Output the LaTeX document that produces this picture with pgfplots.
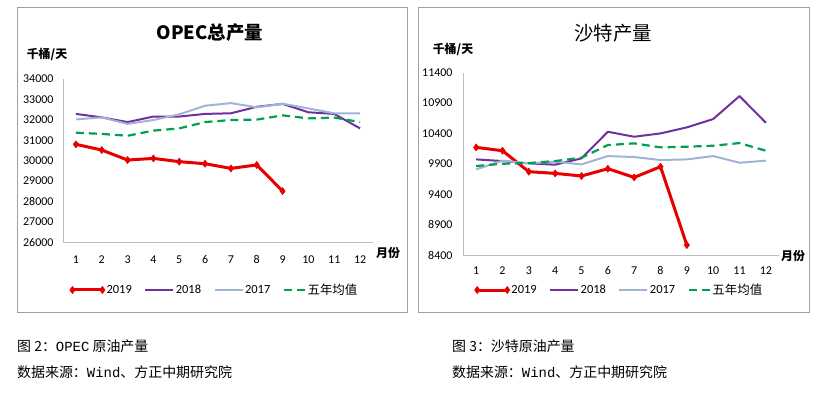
\documentclass[border=0pt]{standalone}
\usepackage{pgfplots}
\pgfplotsset{compat=1.18}
\usepackage{fontspec}
\setmainfont{Carlito}
\newfontfamily\cjk{Noto Sans CJK SC}
\newfontfamily\mono{Liberation Mono}
\definecolor{c19}{RGB}{232,0,0}
\definecolor{c18}{RGB}{112,48,160}
\definecolor{c17}{RGB}{160,180,215}
\definecolor{c5y}{RGB}{0,160,80}
\definecolor{framec}{RGB}{160,160,160}
\definecolor{axln}{RGB}{190,190,190}
\pgfplotsset{
  base/.style={scale only axis, xmin=0.5, xmax=12.5, xtick={1,...,12},
    axis x line*=bottom, axis y line*=left,
    axis line style={draw=axln, line width=0.8bp},
    major tick length=0pt,
    scaled y ticks=false,
    tick label style={font=\fontsize{12}{12}\selectfont},
    yticklabel style={/pgf/number format/fixed, /pgf/number format/precision=0},
    /pgf/number format/assume math mode=true,
    /pgf/number format/1000 sep={},
    clip=false,
    legend columns=4,
    legend style={draw=none, fill=none, inner sep=0pt, anchor=west,
      font=\fontsize{12.5}{12.5}\selectfont, nodes={inner sep=1.5bp},
      /tikz/every even column/.append style={column sep=11bp}},
    legend image code/.code={\draw[##1] (0bp,0bp) -- (28bp,0bp);},
  },
  s19/.style={color=c19, line width=3bp, line join=round, mark=diamond*, mark size=3.6bp, mark options={solid, line width=0.5bp},
    legend image code/.code={\draw[##1] plot coordinates {(0bp,0bp) (30bp,0bp)};}},
  s18/.style={color=c18, line width=2bp, line join=round, no marks},
  s17/.style={color=c17, line width=2bp, line join=round, no marks},
  s5y/.style={color=c5y, line width=2.2bp, dash pattern=on 8bp off 5bp, no marks,
    legend image code/.code={\draw[##1] (0bp,0bp) -- (21bp,0bp);}},
}
\begin{document}
\begin{tikzpicture}
\useasboundingbox (0,0) rectangle (827bp,393bp);
\draw[framec, line width=0.8bp] (17bp,81bp) rectangle (407bp,386bp);
\draw[framec, line width=0.8bp] (418bp,81bp) rectangle (809bp,386bp);

% left chart
\begin{axis}[base, at={(63bp,150.7bp)}, anchor=south west, width=310bp, height=163.3bp,
  ymin=26000, ymax=34000, ytick={26000,27000,...,34000},
  yticklabel style={xshift=-6bp}, xticklabel style={yshift=-10bp},
  legend style={at={(0.021,-0.292)}}]
\addplot[s19] coordinates {(1,30800) (2,30520) (3,30030) (4,30110) (5,29950) (6,29850) (7,29620) (8,29790) (9,28510)};
\addlegendentry{2019}
\addplot[s18] coordinates {(1,32290) (2,32120) (3,31890) (4,32160) (5,32160) (6,32290) (7,32320) (8,32640) (9,32780) (10,32370) (11,32290) (12,31580)};
\addlegendentry{2018}
\addplot[s17] coordinates {(1,32020) (2,32120) (3,31800) (4,31990) (5,32270) (6,32690) (7,32820) (8,32610) (9,32790) (10,32560) (11,32320) (12,32320)};
\addlegendentry{2017}
\addplot[s5y] coordinates {(1,31370) (2,31310) (3,31220) (4,31470) (5,31580) (6,31890) (7,31990) (8,32010) (9,32220) (10,32070) (11,32110) (12,31890)};
\addlegendentry{\cjk 五年均值}
\end{axis}

% right chart
\begin{axis}[base, at={(463bp,138bp)}, anchor=south west, width=316bp, height=182.3bp,
  ymin=8400, ymax=11400, ytick={8400,8900,...,11400},
  yticklabel style={xshift=-7bp}, xticklabel style={yshift=-8bp},
  legend style={at={(0.036,-0.192)}}]
\addplot[s19] coordinates {(1,10171) (2,10116) (3,9771) (4,9743) (5,9700) (6,9820) (7,9677) (8,9853) (9,8564)};
\addlegendentry{2019}
\addplot[s18] coordinates {(1,9973) (2,9946) (3,9908) (4,9886) (5,9990) (6,10428) (7,10346) (8,10401) (9,10500) (10,10637) (11,11015) (12,10577)};
\addlegendentry{2018}
\addplot[s17] coordinates {(1,9809) (2,9952) (3,9908) (4,9935) (5,9891) (6,10028) (7,10012) (8,9963) (9,9973) (10,10028) (11,9918) (12,9952)};
\addlegendentry{2017}
\addplot[s5y] coordinates {(1,9864) (2,9902) (3,9913) (4,9946) (5,10001) (6,10209) (7,10237) (8,10171) (9,10182) (10,10198) (11,10242) (12,10116)};
\addlegendentry{\cjk 五年均值}
\end{axis}

% titles and labels
\node[font=\cjk\bfseries\fontsize{18.5}{18.5}\selectfont] at (210bp,360bp) {OPEC总产量};
\node[font=\cjk\fontsize{19.5}{19.5}\selectfont] at (613bp,360bp) {沙特产量};
\node[font=\cjk\bfseries\fontsize{12}{12}\selectfont] at (47bp,339bp) {千桶/天};
\node[font=\cjk\bfseries\fontsize{12}{12}\selectfont] at (453bp,344bp) {千桶/天};
\node[font=\cjk\bfseries\fontsize{12}{12}\selectfont] at (388bp,140bp) {月份};
\node[font=\cjk\bfseries\fontsize{12}{12}\selectfont] at (793bp,137bp) {月份};

% captions
\node[anchor=west, inner sep=0pt, font=\cjk\fontsize{14}{14}\selectfont] at (17bp,47bp) {图 2：{\mono OPEC} 原油产量};
\node[anchor=west, inner sep=0pt, font=\cjk\fontsize{14}{14}\selectfont] at (17bp,20.5bp) {数据来源：{\mono Wind}、方正中期研究院};
\node[anchor=west, inner sep=0pt, font=\cjk\fontsize{14}{14}\selectfont] at (452bp,47bp) {图 3：沙特原油产量};
\node[anchor=west, inner sep=0pt, font=\cjk\fontsize{14}{14}\selectfont] at (452bp,20.5bp) {数据来源：{\mono Wind}、方正中期研究院};
\end{tikzpicture}
\end{document}
